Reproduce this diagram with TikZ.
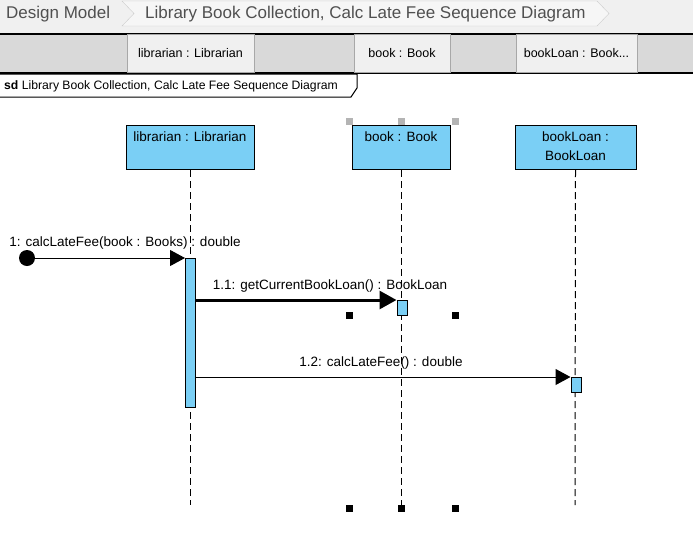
\documentclass[tikz,border=0pt]{standalone}
\usepackage{fontspec}
\setmainfont{Liberation Sans}
\usetikzlibrary{arrows.meta, positioning, calc}

\definecolor{lifeblue}{HTML}{7ACFF5}
\definecolor{bargray}{HTML}{D9D9D9}
\definecolor{crumbgray}{HTML}{F0F0F0}
\definecolor{crumbline}{HTML}{CCCCCC}
\definecolor{crumbtext}{HTML}{505050}
\definecolor{tabline}{HTML}{A8A8A8}
\definecolor{handlegray}{HTML}{B4B4B4}

\tikzset{
  head/.style={draw, line width=1pt, fill=lifeblue, minimum height=44, inner sep=0, anchor=north},
  headtxt/.style={anchor=north, inner sep=0, align=center, font=\fontsize{13.5}{19}\selectfont},
  lifeline/.style={line width=1pt, dash pattern=on 7pt off 4pt},
  act/.style={draw, line width=1pt, fill=lifeblue, minimum width=10, inner sep=0, anchor=north},
  msg/.style={line width=1pt, -{Triangle[length=15pt,width=16pt]}},
  msgtxt/.style={inner sep=0, font=\fontsize{13.5}{15}\selectfont},
  handle/.style={fill, minimum size=7, inner sep=0},
  tab/.style={draw=tabline, fill=crumbgray, minimum height=38, inner sep=0, font=\fontsize{12.5}{14}\selectfont},
  crumb/.style={text=crumbtext, inner sep=0, anchor=west, font=\fontsize{17}{20}\selectfont}
}

\begin{document}
\begin{tikzpicture}[x=1pt, y=-1pt]
    \useasboundingbox (0,0) rectangle (693,552);

    % Breadcrumb bar
    \fill[crumbgray] (0,0) rectangle (693,33);
    \draw[crumbline, fill=crumbgray!60!white] (122,1) -- (597,1) -- (609,13.5) -- (597,26) -- (122,26) -- (134,13.5) -- cycle;
    \node[crumb] (dm) at (6,14) {Design Model};
    \node[crumb] (title) at (145,14) {Library Book Collection, Calc Late Fee Sequence Diagram};

    % Lifeline header bar
    \fill[bargray] (0,34) rectangle (693,72);
    \draw[line width=2pt] (0,34) -- (693,34);
    \draw[line width=2pt] (0,72.5) -- (693,72.5);
    \node[tab, minimum width=127] (tlib) at (190.5,53) {librarian : Librarian};
    \node[tab, minimum width=96] (tbook) at (402,53) {book : Book};
    \node[tab, minimum width=121] (tloan) at (576.5,53) {bookLoan : Book...};

    % Frame label
    \draw[line width=1pt, fill=white] (0,74) -- (357,74) -- (357,88) -- (351,97) -- (0,97);
    \node[inner sep=0, anchor=west, font=\fontsize{12.2}{14}\selectfont] (sd) at (4,86) {\textbf{sd} Library Book Collection, Calc Late Fee Sequence Diagram};

    % Lifeline heads
    \node[head, minimum width=128] (lib) at (190,125) {};
    \node[head, minimum width=98] (book) at (401,125) {};
    \node[head, minimum width=121] (loan) at (575.5,125) {};
    \node[headtxt] at ($(lib.north)+(0,6.5)$) {librarian : Librarian};
    \node[headtxt] at ($(book.north)+(0,6.5)$) {book : Book};
    \node[headtxt] at ($(loan.north)+(0,6.5)$) {bookLoan :\\BookLoan};

    % Lifelines
    \coordinate (libend) at (190,505);
    \coordinate (bookend) at (401,508);
    \coordinate (loanend) at (575,505);
    \draw[lifeline] (lib.south) -- (libend);
    \draw[lifeline] (book.south) -- (bookend);
    \draw[lifeline] (loan.south) -- (loanend);

    % Activations
    \node[act, minimum height=149] (a1) at (190.5,258) {};
    \node[act, minimum height=15] (a2) at (402,300) {};
    \node[act, minimum height=15] (a3) at (576,377) {};

    % Messages
    \node[fill, circle, minimum size=16, inner sep=0] (start) at (27,258) {};
    \draw[msg] (start) -- (a1.north west);
    \draw[line width=3pt, -{Triangle[length=17pt,width=18pt]}] (a1.east |- a2.north west) -- (a2.north west);
    \draw[msg] (a1.east |- a3.north west) -- (a3.north west);
    \node[msgtxt] (m1) at (125,243) {1: calcLateFee(book : Books) : double};
    \node[msgtxt] (m2) at (330,286) {1.1: getCurrentBookLoan() : BookLoan};
    \node[msgtxt] (m3) at (381,363) {1.2: calcLateFee() : double};

    % Selection handles
    \foreach \hx in {349,401,455}
        \node[handle, fill=handlegray] at (\hx,121) {};
    \foreach \hx in {349,455}
        \node[handle] at (\hx,315) {};
    \foreach \hx in {349,401,455}
        \node[handle] at (\hx,508) {};

\end{tikzpicture}
\end{document}
